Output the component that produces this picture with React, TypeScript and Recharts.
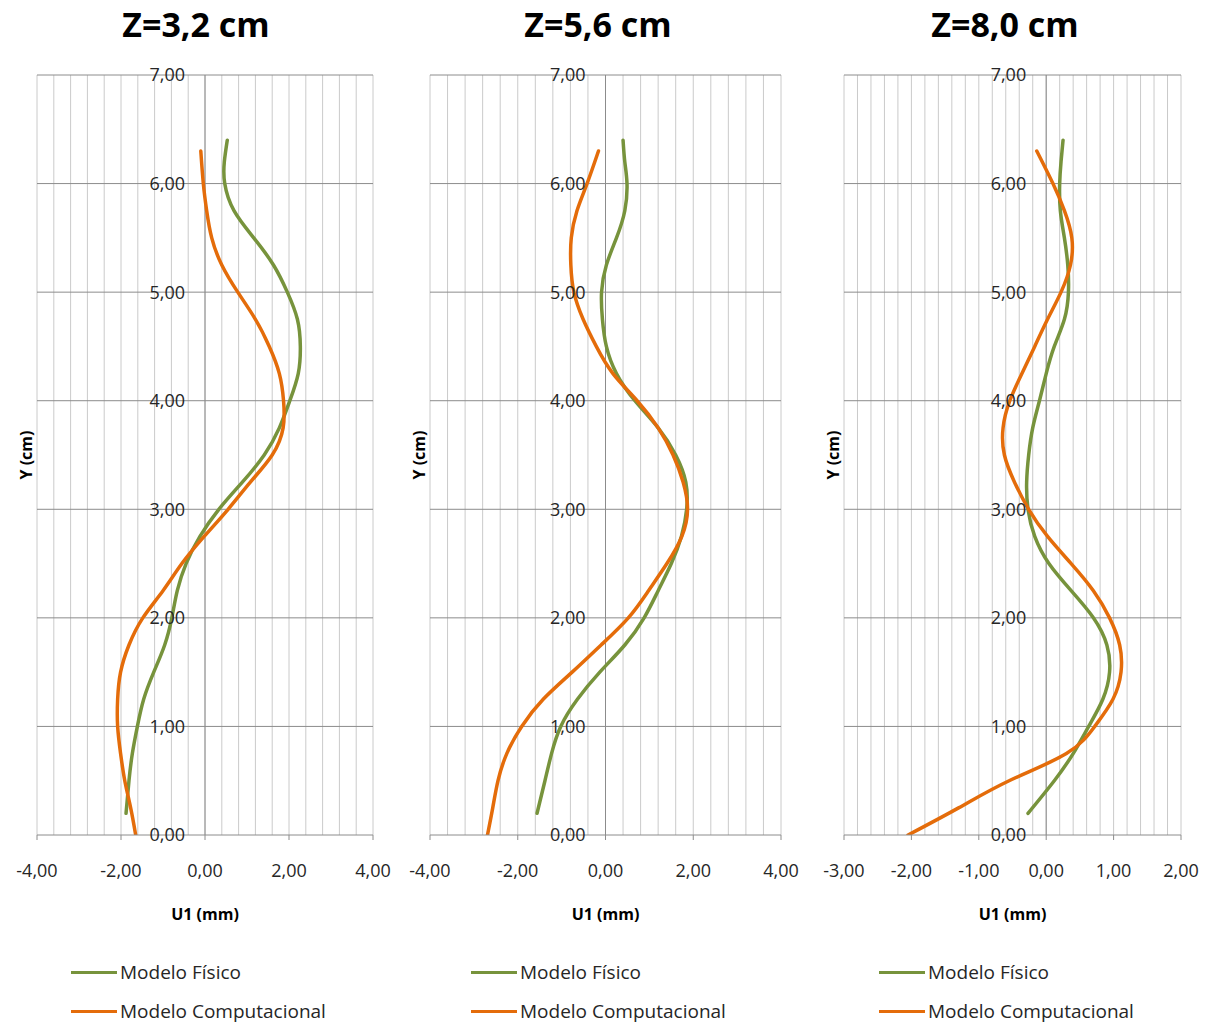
import React from "react";
import { LineChart, Line, XAxis, YAxis, CartesianGrid, ReferenceLine, ReferenceDot } from "recharts";

const GREEN = "#77933C";
const ORANGE = "#E46C0A";
const FONT = "'Open Sans', 'Noto Sans', sans-serif";

// Y (cm) levels
const yFisico = [0.2, 0.5, 0.75, 1, 1.25, 1.5, 1.75, 2, 2.25, 2.5, 2.75, 3, 3.25, 3.5, 3.75, 4, 4.25, 4.5, 4.75, 5, 5.25, 5.5, 5.75, 6, 6.2, 6.4];
const yComputacional = [0, 0.25, 0.5, 0.75, 1, 1.25, 1.5, 1.75, 2, 2.25, 2.5, 2.75, 3, 3.25, 3.5, 3.75, 4, 4.25, 4.5, 4.75, 5, 5.25, 5.5, 5.75, 6, 6.3];

// U1 (mm) — Z=3,2 cm
const uFisicoZ32 = [-1.88, -1.81, -1.73, -1.61, -1.46, -1.22, -0.96, -0.79, -0.66, -0.45, -0.12, 0.33, 0.89, 1.41, 1.77, 2.02, 2.22, 2.27, 2.2, 1.96, 1.63, 1.16, 0.69, 0.47, 0.46, 0.53];
const uCompZ32 = [-1.65, -1.77, -1.91, -2.01, -2.08, -2.08, -2.01, -1.81, -1.48, -1.0, -0.55, -0.02, 0.55, 1.08, 1.6, 1.86, 1.87, 1.77, 1.53, 1.2, 0.78, 0.4, 0.16, 0.04, -0.04, -0.1];

// U1 (mm) — Z=5,6 cm
const uFisicoZ56 = [-1.56, -1.38, -1.23, -1.02, -0.64, -0.13, 0.44, 0.88, 1.2, 1.5, 1.73, 1.85, 1.83, 1.6, 1.2, 0.67, 0.25, 0.02, -0.07, -0.09, 0.02, 0.25, 0.44, 0.49, 0.44, 0.4];
const uCompZ56 = [-2.69, -2.57, -2.45, -2.25, -1.91, -1.42, -0.76, -0.1, 0.52, 0.98, 1.4, 1.74, 1.87, 1.77, 1.54, 1.2, 0.72, 0.17, -0.21, -0.51, -0.72, -0.79, -0.78, -0.65, -0.42, -0.16];

// U1 (mm) — Z=8,0 cm
const uFisicoZ80 = [-0.27, 0.12, 0.4, 0.63, 0.84, 0.94, 0.9, 0.7, 0.37, 0.04, -0.17, -0.27, -0.29, -0.26, -0.2, -0.1, 0.0, 0.12, 0.27, 0.33, 0.32, 0.27, 0.21, 0.2, 0.22, 0.25];
const uCompZ80 = [-2.05, -1.3, -0.55, 0.3, 0.72, 0.99, 1.11, 1.09, 0.94, 0.7, 0.37, 0.02, -0.26, -0.47, -0.62, -0.64, -0.54, -0.36, -0.17, 0.02, 0.22, 0.36, 0.38, 0.27, 0.1, -0.14];

const yTicks = [0, 1, 2, 3, 4, 5, 6, 7];
const xTicksWide = [-4, -2, 0, 2, 4];
const xTicksNarrow = [-3, -2, -1, 0, 1, 2];

const toPoints = (ys: number[], us: number[]) => ys.map((y, i) => ({ y, u: us[i] }));
const fmt = (v: number) => v.toFixed(2).replace(".", ",");
const range = (a: number, b: number, step: number) => {
  const out: number[] = [];
  const n = Math.round((b - a) / step);
  for (let i = 0; i <= n; i++) out.push(a + i * step);
  return out;
};

type PanelProps = {
  title: string;
  left: number;
  width: number;
  marginLeft: number;
  marginRight: number;
  titleX: number;
  legendX: number;
  xDomain: [number, number];
  xTicks: number[];
  gridStep: number;
  fisico: number[];
  computacional: number[];
};

function Panel(p: PanelProps) {
  const fisicoData = toPoints(yFisico, p.fisico);
  const compData = toPoints(yComputacional, p.computacional);
  const minorValues = range(p.xDomain[0], p.xDomain[1], p.gridStep);
  const legend = [
    { name: "Modelo Físico", color: GREEN, top: 972 },
    { name: "Modelo Computacional", color: ORANGE, top: 1011 },
  ];
  // minor vertical grid lines, placed through the x axis scale
  const verticalGen = (props: any) => {
    const xAxis = props?.xAxis;
    if (xAxis && typeof xAxis.scale === "function") {
      return minorValues.map((v) => xAxis.scale(v));
    }
    const off = props.offset;
    return minorValues.map((v) => off.left + ((v - p.xDomain[0]) / (p.xDomain[1] - p.xDomain[0])) * off.width);
  };
  return (
    <>
      <div
        style={{
          position: "absolute", left: p.titleX - 150, width: 300, top: 7,
          textAlign: "center", fontSize: 34, fontWeight: 700, lineHeight: "34px", color: "#000",
        }}
      >
        {p.title}
      </div>
      <div style={{ position: "absolute", left: p.left, top: 0 }}>
        <LineChart
          layout="vertical"
          width={p.width}
          height={930}
          margin={{ top: 75, right: p.marginRight, bottom: 5, left: p.marginLeft }}
        >
          <CartesianGrid horizontal={false} verticalCoordinatesGenerator={verticalGen} stroke="#cacaca" />
          <XAxis
            type="number"
            dataKey="u"
            domain={p.xDomain}
            ticks={p.xTicks}
            allowDataOverflow
            tickFormatter={fmt}
            height={90}
            tickSize={5}
            tickMargin={24}
            stroke="#8c8c8c"
            tick={{ fill: "#262626", fontSize: 18 }}
            label={{ value: "U1 (mm)", position: "insideBottom", offset: 5, fill: "#000", fontSize: 16, fontWeight: 700 }}
          />
          <YAxis
            type="number"
            dataKey="y"
            domain={[0, 7]}
            ticks={yTicks}
            reversed
            allowDataOverflow
            width={22}
            tick={false}
            tickLine={false}
            axisLine={false}
            label={{ value: "Y (cm)", angle: -90, position: "center", fill: "#000", fontSize: 16, fontWeight: 700 }}
          />
          {yTicks.slice(1).map((t) => (
            <ReferenceLine key={`h${t}`} y={t} stroke="#8c8c8c" />
          ))}
          <ReferenceLine x={0} stroke="#8c8c8c" />
          <Line
            data={fisicoData}
            dataKey="u"
            name="Modelo Físico"
            type="natural"
            stroke={GREEN}
            strokeWidth={3.5}
            strokeLinecap="round"
            dot={false}
            activeDot={false}
            isAnimationActive={false}
          />
          <Line
            data={compData}
            dataKey="u"
            name="Modelo Computacional"
            type="natural"
            stroke={ORANGE}
            strokeWidth={3.5}
            strokeLinecap="round"
            dot={false}
            activeDot={false}
            isAnimationActive={false}
          />
          {yTicks.map((t) => (
            <ReferenceDot
              key={t}
              x={0}
              y={t}
              r={0}
              fill="none"
              stroke="none"
              label={{ value: fmt(t), position: "left", offset: 20, fill: "#262626", fontSize: 18 }}
            />
          ))}
        </LineChart>
      </div>
      {legend.map((l) => (
        <div
          key={l.name}
          style={{
            position: "absolute", left: p.legendX, top: l.top - 11, height: 22, lineHeight: "22px",
            display: "flex", alignItems: "center", fontSize: 19, color: "#262626", whiteSpace: "nowrap",
          }}
        >
          <span style={{ display: "inline-block", width: 46, height: 3, background: l.color, marginRight: 3 }} />
          {l.name}
        </div>
      ))}
    </>
  );
}

export default function App() {
  return (
    <div
      style={{
        position: "absolute", left: 0, top: 0, width: 1208, height: 1023,
        background: "#fff", fontFamily: FONT, overflow: "hidden",
      }}
    >
      <Panel
        title="Z=3,2 cm" left={0} width={400} marginLeft={15} marginRight={27}
        titleX={196} legendX={71} xDomain={[-4, 4]} xTicks={xTicksWide} gridStep={0.4}
        fisico={uFisicoZ32} computacional={uCompZ32}
      />
      <Panel
        title="Z=5,6 cm" left={400} width={410} marginLeft={8} marginRight={29}
        titleX={598} legendX={471} xDomain={[-4, 4]} xTicks={xTicksWide} gridStep={0.4}
        fisico={uFisicoZ56} computacional={uCompZ56}
      />
      <Panel
        title="Z=8,0 cm" left={810} width={398} marginLeft={12} marginRight={27}
        titleX={1005} legendX={879} xDomain={[-3, 2]} xTicks={xTicksNarrow} gridStep={0.2}
        fisico={uFisicoZ80} computacional={uCompZ80}
      />
    </div>
  );
}
